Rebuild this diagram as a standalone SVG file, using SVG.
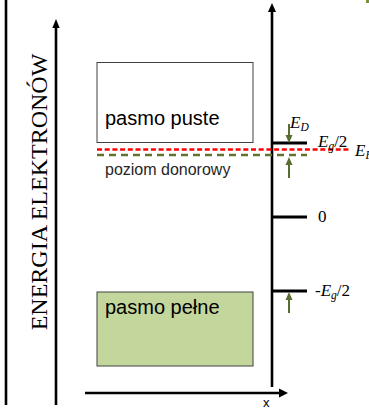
<svg xmlns="http://www.w3.org/2000/svg" width="369" height="409" viewBox="0 0 369 409">
<defs>
<style>
.ax{stroke:#000;stroke-width:2.6;fill:none}
.tick{stroke:#000;stroke-width:3}
.band{stroke:#404040;stroke-width:1}
.ga{stroke:#586d30;stroke-width:2}
.gh{fill:#586d30}
.sans{font-family:"Liberation Sans",Arial,sans-serif}
.serif{font-family:"Liberation Serif","Times New Roman",serif;fill:#000}
.it{font-style:italic}
</style>
</defs>
<rect width="369" height="409" fill="#fff"/>
<rect x="366" y="0" width="3" height="3" fill="#77933c"/>
<g id="connectors">
<line class="ax" x1="6" y1="0" x2="6" y2="405"/>
<line class="ax" x1="56" y1="27" x2="56" y2="405"/>
<polygon points="56,19 52.3,28 59.7,28" fill="#000"/>
<line class="ax" x1="272" y1="11" x2="272" y2="387" stroke-width="3"/>
<polygon points="272,3 268,12 276,12" fill="#000"/>
<line class="ax" x1="85" y1="393" x2="280" y2="393" stroke-width="3"/>
<polygon points="288,393 279,388.5 279,397.5" fill="#000"/>
<line class="tick" x1="272" y1="143" x2="307" y2="143"/>
<line class="tick" x1="272" y1="217" x2="307" y2="217"/>
<line class="tick" x1="272" y1="291" x2="307" y2="291"/>
<line x1="97" y1="155" x2="307" y2="155" stroke="#5f7532" stroke-width="2.5" stroke-dasharray="7,5"/>
<line x1="97" y1="149.5" x2="350" y2="149.5" stroke="#ff0000" stroke-width="2.5" stroke-dasharray="5,2.7"/>
<line class="ga" x1="289" y1="124" x2="289" y2="136"/>
<polygon class="gh" points="289,143 285.5,135 292.5,135"/>
<line class="ga" x1="289" y1="164" x2="289" y2="178"/>
<polygon class="gh" points="289,157 285.5,165 292.5,165"/>
<line class="ga" x1="289" y1="299" x2="289" y2="313"/>
<polygon class="gh" points="289,292 285.5,300 292.5,300"/>
</g>
<g id="pasmo-puste">
<rect class="band" x="97" y="62.5" width="156" height="80" fill="#fff"/>
<text class="sans" x="105" y="125" font-size="20" fill="#000">pasmo puste</text>
</g>
<g id="pasmo-pelne">
<rect class="band" x="97" y="292" width="156" height="74" fill="#c3d69b"/>
<text class="sans" x="105" y="314" font-size="20" fill="#000">pasmo pełne</text>
</g>
<g id="poziom-donorowy">
<text class="sans" x="105" y="175" font-size="16" fill="#262626">poziom donorowy</text>
</g>
<g id="axis-label">
<text class="serif" transform="translate(47,192) rotate(-90)" text-anchor="middle" font-size="24">ENERGIA ELEKTRONÓW</text>
</g>
<g id="labels">
<text class="serif it" x="290" y="128" font-size="17">E<tspan font-size="11.5" dy="3">D</tspan></text>
<text class="serif it" x="318" y="147" font-size="17">E<tspan font-size="11.5" dy="3">g</tspan><tspan font-style="normal" dy="-3">/2</tspan></text>
<text class="serif it" x="355" y="156" font-size="17">E<tspan font-size="11.5" dy="3">F</tspan></text>
<text class="serif" x="318" y="222" font-size="17">0</text>
<text class="serif" x="315" y="296" font-size="17">-<tspan class="it">E</tspan><tspan class="it" font-size="11.5" dy="3">g</tspan><tspan dy="-3">/2</tspan></text>
<text class="sans" x="263" y="407" font-size="13" fill="#000">x</text>
</g>
</svg>
